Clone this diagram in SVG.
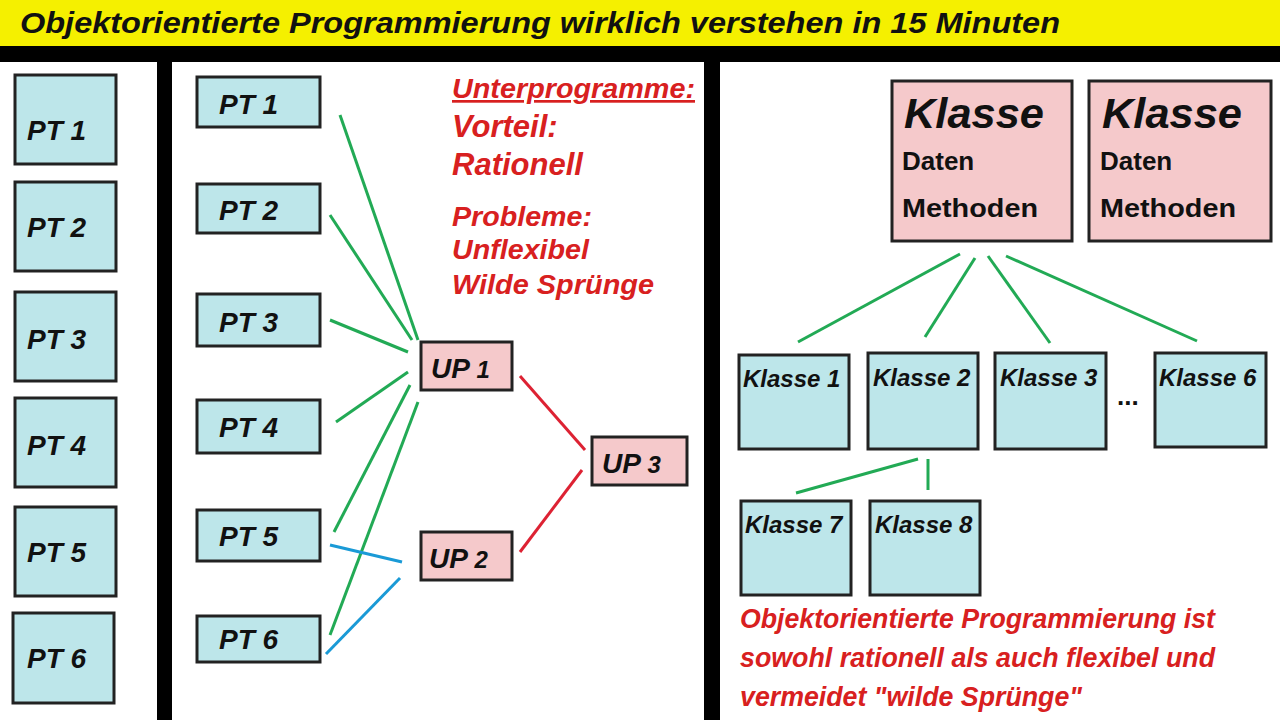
<svg xmlns="http://www.w3.org/2000/svg" width="1280" height="720" viewBox="0 0 1280 720">
<style>
text{font-family:"Liberation Sans",Arial,sans-serif;font-weight:bold}
.pt{fill:#bde6ea;stroke:#222;stroke-width:3}
.up{fill:#f5c9cb;stroke:#222;stroke-width:3}
.lbl{font-size:28px;font-style:italic;fill:#111}
.kl{font-size:24px;font-style:italic;fill:#111}
.red{fill:#d82020;font-style:italic}
.g{stroke:#22aa55;stroke-width:3}
.b{stroke:#1a9ad6;stroke-width:3}
.r{stroke:#dd2233;stroke-width:3}
</style>
<rect width="1280" height="720" fill="#000"/>
<rect x="0" y="0" width="1280" height="46" fill="#f5f000"/>
<text x="20" y="33" font-size="30" font-style="italic" fill="#111" textLength="1040" lengthAdjust="spacingAndGlyphs">Objektorientierte Programmierung wirklich verstehen in 15 Minuten</text>
<rect x="0" y="62" width="157" height="658" fill="#fff"/>
<rect x="172" y="62" width="532" height="658" fill="#fff"/>
<rect x="720" y="62" width="560" height="658" fill="#fff"/>
<g id="left">
<g id="l1"><rect class="pt" x="15" y="75" width="101" height="89"/><text class="lbl" x="27" y="140">PT 1</text></g>
<g id="l2"><rect class="pt" x="15" y="182" width="101" height="89"/><text class="lbl" x="27" y="237">PT 2</text></g>
<g id="l3"><rect class="pt" x="15" y="292" width="101" height="89"/><text class="lbl" x="27" y="349">PT 3</text></g>
<g id="l4"><rect class="pt" x="15" y="398" width="101" height="89"/><text class="lbl" x="27" y="455">PT 4</text></g>
<g id="l5"><rect class="pt" x="15" y="507" width="101" height="89"/><text class="lbl" x="27" y="562">PT 5</text></g>
<g id="l6"><rect class="pt" x="13" y="613" width="101" height="90"/><text class="lbl" x="27" y="668">PT 6</text></g>
</g>
<g id="connectors">
<line class="g" x1="340" y1="115" x2="418" y2="340"/>
<line class="g" x1="330" y1="215" x2="412" y2="340"/>
<line class="g" x1="330" y1="320" x2="408" y2="352"/>
<line class="g" x1="336" y1="422" x2="408" y2="372"/>
<line class="g" x1="334" y1="532" x2="410" y2="385"/>
<line class="g" x1="330" y1="635" x2="418" y2="402"/>
<line class="b" x1="330" y1="545" x2="402" y2="562"/>
<line class="b" x1="326" y1="654" x2="400" y2="578"/>
<line class="r" x1="520" y1="376" x2="585" y2="450"/>
<line class="r" x1="520" y1="552" x2="582" y2="470"/>
<line class="g" x1="960" y1="254" x2="798" y2="342"/>
<line class="g" x1="975" y1="258" x2="925" y2="337"/>
<line class="g" x1="988" y1="256" x2="1050" y2="343"/>
<line class="g" x1="1006" y1="256" x2="1197" y2="341"/>
<line class="g" x1="918" y1="459" x2="796" y2="493"/>
<line class="g" x1="928" y1="459" x2="928" y2="490"/>
</g>
<g id="mid">
<g id="m1"><rect class="pt" x="197" y="77" width="123" height="50"/><text class="lbl" x="219" y="114">PT 1</text></g>
<g id="m2"><rect class="pt" x="197" y="184" width="123" height="49"/><text class="lbl" x="219" y="220">PT 2</text></g>
<g id="m3"><rect class="pt" x="197" y="294" width="123" height="52"/><text class="lbl" x="219" y="332">PT 3</text></g>
<g id="m4"><rect class="pt" x="197" y="400" width="123" height="53"/><text class="lbl" x="219" y="437">PT 4</text></g>
<g id="m5"><rect class="pt" x="197" y="510" width="123" height="51"/><text class="lbl" x="219" y="546">PT 5</text></g>
<g id="m6"><rect class="pt" x="197" y="616" width="123" height="46"/><text class="lbl" x="219" y="649">PT 6</text></g>
<g id="up1"><rect class="up" x="421" y="342" width="91" height="48"/><text class="lbl" x="431" y="378">UP<tspan font-size="24"> 1</tspan></text></g>
<g id="up2"><rect class="up" x="421" y="532" width="91" height="48"/><text class="lbl" x="429" y="568">UP<tspan font-size="24"> 2</tspan></text></g>
<g id="up3"><rect class="up" x="592" y="437" width="95" height="48"/><text class="lbl" x="602" y="473">UP<tspan font-size="24"> 3</tspan></text></g>
<text class="red" x="452" y="98" font-size="27" text-decoration="underline" textLength="243" lengthAdjust="spacingAndGlyphs">Unterprogramme:</text>
<text class="red" x="452" y="137" font-size="31">Vorteil:</text>
<text class="red" x="452" y="175" font-size="31">Rationell</text>
<text class="red" x="452" y="226" font-size="27" textLength="140" lengthAdjust="spacingAndGlyphs">Probleme:</text>
<text class="red" x="452" y="259" font-size="27" textLength="137" lengthAdjust="spacingAndGlyphs">Unflexibel</text>
<text class="red" x="452" y="294" font-size="27" textLength="202" lengthAdjust="spacingAndGlyphs">Wilde Sprünge</text>
</g>
<g id="right">
<g id="k1"><rect class="up" x="892" y="81" width="180" height="160"/><text x="904" y="128" font-size="42" font-style="italic" fill="#111" textLength="140" lengthAdjust="spacingAndGlyphs">Klasse</text><text x="902" y="170" font-size="26" fill="#111">Daten</text><text x="902" y="217" font-size="26" fill="#111" textLength="136" lengthAdjust="spacingAndGlyphs">Methoden</text></g>
<g id="k2"><rect class="up" x="1089" y="81" width="182" height="160"/><text x="1102" y="128" font-size="42" font-style="italic" fill="#111" textLength="140" lengthAdjust="spacingAndGlyphs">Klasse</text><text x="1100" y="170" font-size="26" fill="#111">Daten</text><text x="1100" y="217" font-size="26" fill="#111" textLength="136" lengthAdjust="spacingAndGlyphs">Methoden</text></g>
<g id="c1"><rect class="pt" x="739" y="355" width="110" height="94"/><text class="kl" x="743" y="387">Klasse 1</text></g>
<g id="c2"><rect class="pt" x="868" y="353" width="110" height="96"/><text class="kl" x="873" y="386">Klasse 2</text></g>
<g id="c3"><rect class="pt" x="995" y="353" width="111" height="96"/><text class="kl" x="1000" y="386">Klasse 3</text></g>
<text x="1117" y="405" font-size="26" fill="#111">...</text>
<g id="c6"><rect class="pt" x="1155" y="353" width="111" height="94"/><text class="kl" x="1159" y="386">Klasse 6</text></g>
<g id="c7"><rect class="pt" x="741" y="501" width="110" height="94"/><text class="kl" x="745" y="533">Klasse 7</text></g>
<g id="c8"><rect class="pt" x="870" y="501" width="110" height="94"/><text class="kl" x="875" y="533">Klasse 8</text></g>
<text class="red" x="740" y="628" font-size="27" textLength="475" lengthAdjust="spacingAndGlyphs">Objektorientierte Programmierung ist</text>
<text class="red" x="740" y="667" font-size="27" textLength="475" lengthAdjust="spacingAndGlyphs">sowohl rationell als auch flexibel und</text>
<text class="red" x="740" y="706" font-size="27" textLength="342" lengthAdjust="spacingAndGlyphs">vermeidet "wilde Sprünge"</text>
</g>
</svg>
